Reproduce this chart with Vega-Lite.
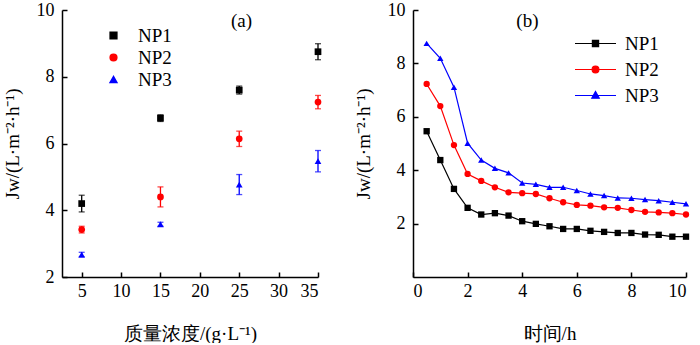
{
  "$schema": "https://vega.github.io/schema/vega-lite/v6.json",
  "padding": {"left": 3, "top": 1, "right": 0, "bottom": 0},
  "background": "white",
  "spacing": 32,
  "datasets": {
    "conc": [
      {"series": "NP1", "conc": 5, "jw": 4.2, "err": 0.25},
      {"series": "NP1", "conc": 15, "jw": 6.76, "err": 0.1},
      {"series": "NP1", "conc": 25, "jw": 7.6, "err": 0.12},
      {"series": "NP1", "conc": 35, "jw": 8.75, "err": 0.24},
      {"series": "NP2", "conc": 5, "jw": 3.42, "err": 0.1},
      {"series": "NP2", "conc": 15, "jw": 4.4, "err": 0.3},
      {"series": "NP2", "conc": 25, "jw": 6.14, "err": 0.23},
      {"series": "NP2", "conc": 35, "jw": 7.24, "err": 0.2},
      {"series": "NP3", "conc": 5, "jw": 2.67, "err": 0.07},
      {"series": "NP3", "conc": 15, "jw": 3.58, "err": 0.06},
      {"series": "NP3", "conc": 25, "jw": 4.77, "err": 0.3},
      {"series": "NP3", "conc": 35, "jw": 5.47, "err": 0.32}
    ],
    "time": [
      {"series": "NP1", "t": 0.5, "jw": 5.46},
      {"series": "NP1", "t": 1, "jw": 4.38},
      {"series": "NP1", "t": 1.5, "jw": 3.3},
      {"series": "NP1", "t": 2, "jw": 2.59},
      {"series": "NP1", "t": 2.5, "jw": 2.34},
      {"series": "NP1", "t": 3, "jw": 2.39},
      {"series": "NP1", "t": 3.5, "jw": 2.3},
      {"series": "NP1", "t": 4, "jw": 2.09},
      {"series": "NP1", "t": 4.5, "jw": 1.99},
      {"series": "NP1", "t": 5, "jw": 1.9},
      {"series": "NP1", "t": 5.5, "jw": 1.8},
      {"series": "NP1", "t": 6, "jw": 1.8},
      {"series": "NP1", "t": 6.5, "jw": 1.73},
      {"series": "NP1", "t": 7, "jw": 1.69},
      {"series": "NP1", "t": 7.5, "jw": 1.65},
      {"series": "NP1", "t": 8, "jw": 1.65},
      {"series": "NP1", "t": 8.5, "jw": 1.59},
      {"series": "NP1", "t": 9, "jw": 1.58},
      {"series": "NP1", "t": 9.5, "jw": 1.51},
      {"series": "NP1", "t": 10, "jw": 1.51},
      {"series": "NP2", "t": 0.5, "jw": 7.23},
      {"series": "NP2", "t": 1, "jw": 6.4},
      {"series": "NP2", "t": 1.5, "jw": 4.94},
      {"series": "NP2", "t": 2, "jw": 3.86},
      {"series": "NP2", "t": 2.5, "jw": 3.6},
      {"series": "NP2", "t": 3, "jw": 3.36},
      {"series": "NP2", "t": 3.5, "jw": 3.17},
      {"series": "NP2", "t": 4, "jw": 3.14},
      {"series": "NP2", "t": 4.5, "jw": 3.11},
      {"series": "NP2", "t": 5, "jw": 2.95},
      {"series": "NP2", "t": 5.5, "jw": 2.8},
      {"series": "NP2", "t": 6, "jw": 2.7},
      {"series": "NP2", "t": 6.5, "jw": 2.67},
      {"series": "NP2", "t": 7, "jw": 2.61},
      {"series": "NP2", "t": 7.5, "jw": 2.59},
      {"series": "NP2", "t": 8, "jw": 2.51},
      {"series": "NP2", "t": 8.5, "jw": 2.44},
      {"series": "NP2", "t": 9, "jw": 2.42},
      {"series": "NP2", "t": 9.5, "jw": 2.39},
      {"series": "NP2", "t": 10, "jw": 2.34},
      {"series": "NP3", "t": 0.5, "jw": 8.75},
      {"series": "NP3", "t": 1, "jw": 8.19},
      {"series": "NP3", "t": 1.5, "jw": 7.11},
      {"series": "NP3", "t": 2, "jw": 5.01},
      {"series": "NP3", "t": 2.5, "jw": 4.38},
      {"series": "NP3", "t": 3, "jw": 4.07},
      {"series": "NP3", "t": 3.5, "jw": 3.9},
      {"series": "NP3", "t": 4, "jw": 3.52},
      {"series": "NP3", "t": 4.5, "jw": 3.47},
      {"series": "NP3", "t": 5, "jw": 3.36},
      {"series": "NP3", "t": 5.5, "jw": 3.36},
      {"series": "NP3", "t": 6, "jw": 3.24},
      {"series": "NP3", "t": 6.5, "jw": 3.11},
      {"series": "NP3", "t": 7, "jw": 3.05},
      {"series": "NP3", "t": 7.5, "jw": 2.96},
      {"series": "NP3", "t": 8, "jw": 2.95},
      {"series": "NP3", "t": 8.5, "jw": 2.9},
      {"series": "NP3", "t": 9, "jw": 2.86},
      {"series": "NP3", "t": 9.5, "jw": 2.8},
      {"series": "NP3", "t": 10, "jw": 2.74}
    ]
  },
  "config": {
    "font": "Liberation Serif",
    "view": {"stroke": null},
    "axis": {
      "grid": false,
      "domainColor": "black",
      "domainWidth": 1.5,
      "tickColor": "black",
      "tickWidth": 1.5,
      "tickSize": -5,
      "labelFont": "Liberation Serif",
      "titleFont": "Liberation Serif",
      "labelFontSize": 18,
      "labelColor": "black",
      "titleFontSize": 19,
      "titleColor": "black",
      "titleFontWeight": "normal",
      "titlePadding": 14
    },
    "axisX": {"labelPadding": 10, "titlePadding": 24},
    "axisY": {"labelPadding": 13},
    "legend": {
      "labelFont": "Liberation Serif",
      "labelFontSize": 19,
      "labelColor": "black",
      "padding": 0,
      "title": null
    }
  },
  "resolve": {
    "scale": {"color": "independent", "shape": "independent", "fill": "independent", "stroke": "independent"},
    "legend": {"color": "independent", "shape": "independent", "fill": "independent", "stroke": "independent"}
  },
  "hconcat": [
    {
      "width": 256,
      "height": 267,
      "layer": [
        {
          "data": {"name": "conc"},
          "mark": {"type": "errorbar", "ticks": {"size": 6, "thickness": 1.3}, "thickness": 1.3},
          "encoding": {
            "x": {"field": "conc", "type": "quantitative", "title": "质量浓度/(g·L⁻¹)",
                  "scale": {"domain": [2.5, 35], "nice": false},
                  "axis": {"values": [5, 10, 15, 20, 25, 30, 35], "labelFont": "Liberation Serif", "titleFont": "Liberation Serif"}},
            "y": {"field": "jw", "type": "quantitative", "title": "Jw/(L·m⁻²·h⁻¹)",
                  "scale": {"domain": [2, 10], "nice": false},
                  "axis": {"values": [2, 4, 6, 8, 10], "labelFont": "Liberation Serif", "titleFont": "Liberation Serif"}},
            "yError": {"field": "err"},
            "color": {"field": "series", "type": "nominal", "scale": {"range": ["#000000", "#ff0000", "#0000ff"]},
                      "legend": {"orient": "none", "legendX": 42, "legendY": 16, "symbolSize": 45, "labelOffset": 15, "rowPadding": 2, "labelFont": "Liberation Serif",
                                 "encode": {"symbols": {"update": {"shape": {"signal": "datum.value === 'NP1' ? 'square' : datum.value === 'NP2' ? 'circle' : 'triangle-up'"}}}}}}
          }
        },
        {
          "data": {"name": "conc"},
          "mark": {"type": "point", "filled": true, "size": 45, "opacity": 1},
          "encoding": {
            "x": {"field": "conc", "type": "quantitative", "title": "质量浓度/(g·L⁻¹)"},
            "y": {"field": "jw", "type": "quantitative", "title": "Jw/(L·m⁻²·h⁻¹)"},
            "color": {"field": "series", "type": "nominal", "scale": {"range": ["#000000", "#ff0000", "#0000ff"]},
                      "legend": {"orient": "none", "legendX": 42, "legendY": 16, "symbolSize": 45, "labelOffset": 15, "rowPadding": 2, "labelFont": "Liberation Serif",
                                 "encode": {"symbols": {"update": {"shape": {"signal": "datum.value === 'NP1' ? 'square' : datum.value === 'NP2' ? 'circle' : 'triangle-up'"}}}}}},
            "shape": {"field": "series", "type": "nominal", "scale": {"range": ["square", "circle", "triangle-up"]}, "legend": null}
          }
        },
        {
          "data": {"values": [{}]},
          "mark": {"type": "text", "fontSize": 19, "align": "center", "baseline": "middle", "fill": "black", "font": "Liberation Serif"},
          "encoding": {
            "x": {"datum": 25.3, "type": "quantitative", "title": "质量浓度/(g·L⁻¹)"},
            "y": {"datum": 9.67, "type": "quantitative", "title": "Jw/(L·m⁻²·h⁻¹)"},
            "text": {"value": "(a)"}
          }
        }
      ]
    },
    {
      "width": 273,
      "height": 267,
      "layer": [
        {
          "data": {"name": "time"},
          "mark": {"type": "line", "strokeWidth": 1.2},
          "encoding": {
            "x": {"field": "t", "type": "quantitative", "title": "时间/h",
                  "scale": {"domain": [0, 10], "nice": false},
                  "axis": {"values": [0, 2, 4, 6, 8, 10], "labelFont": "Liberation Serif", "titleFont": "Liberation Serif"}},
            "y": {"field": "jw", "type": "quantitative", "title": "Jw/(L·m⁻²·h⁻¹)",
                  "scale": {"domain": [0, 10], "nice": false},
                  "axis": {"values": [2, 4, 6, 8, 10], "labelFont": "Liberation Serif", "titleFont": "Liberation Serif"}},
            "stroke": {"field": "series", "type": "nominal",
                       "scale": {"domain": ["NP1", "NP2", "NP3"], "range": ["#000000", "#ff0000", "#0000ff"]},
                       "legend": {"orient": "none", "legendX": 173, "legendY": 24, "symbolSize": 100, "symbolStrokeWidth": 1.2, "labelOffset": 20, "rowPadding": 6, "labelFont": "Liberation Serif",
                                  "encode": {"symbols": {"update": {
                                    "shape": {"signal": "datum.value === 'NP1' ? 'M-4.1,0H4.1M-0.62,-0.62H0.62V0.62H-0.62Z' : datum.value === 'NP2' ? 'M-4.1,0H4.1M-0.68,0A0.68,0.68,0,1,0,0.68,0A0.68,0.68,0,1,0,-0.68,0Z' : 'M-4.1,0H4.1M-0.75,0.55L0,-0.8L0.75,0.55Z'"},
                                    "fill": {"signal": "datum.value === 'NP1' ? '#000000' : datum.value === 'NP2' ? '#ff0000' : '#0000ff'"},
                                    "stroke": {"signal": "datum.value === 'NP1' ? '#000000' : datum.value === 'NP2' ? '#ff0000' : '#0000ff'"}
                                  }}}}}
          }
        },
        {
          "data": {"name": "time"},
          "mark": {"type": "point", "filled": true, "size": 40, "opacity": 1},
          "encoding": {
            "x": {"field": "t", "type": "quantitative", "title": "时间/h"},
            "y": {"field": "jw", "type": "quantitative", "title": "Jw/(L·m⁻²·h⁻¹)"},
            "fill": {"field": "series", "type": "nominal", "scale": {"range": ["#000000", "#ff0000", "#0000ff"]}, "legend": null},
            "shape": {"field": "series", "type": "nominal", "scale": {"range": ["square", "circle", "triangle-up"]}, "legend": null}
          }
        },
        {
          "data": {"values": [{}]},
          "mark": {"type": "text", "fontSize": 19, "align": "center", "baseline": "middle", "fill": "black", "font": "Liberation Serif"},
          "encoding": {
            "x": {"datum": 4.19, "type": "quantitative", "title": "时间/h"},
            "y": {"datum": 9.59, "type": "quantitative", "title": "Jw/(L·m⁻²·h⁻¹)"},
            "text": {"value": "(b)"}
          }
        }
      ]
    }
  ]
}
